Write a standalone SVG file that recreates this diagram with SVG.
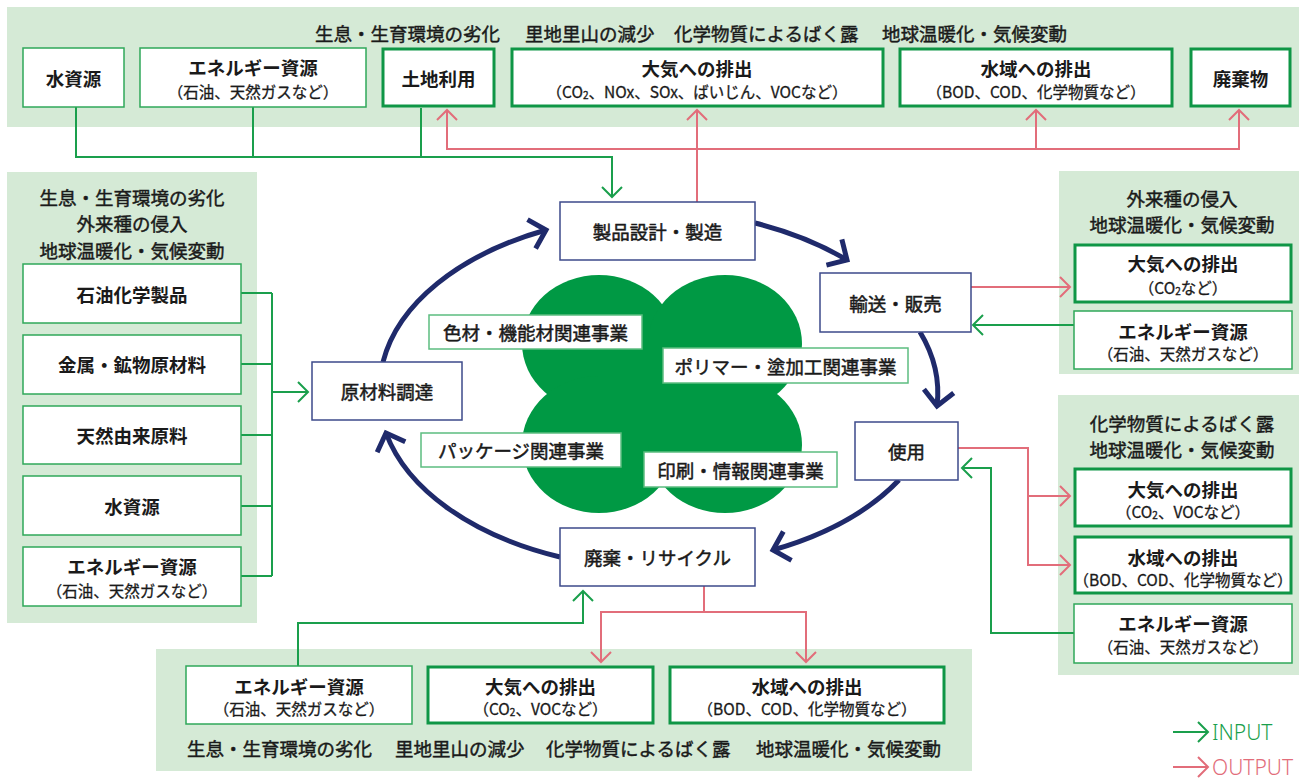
<svg xmlns="http://www.w3.org/2000/svg" width="1306" height="779" viewBox="0 0 1306 779">
<style>
text{font-family:"Noto Sans CJK JP","Noto Sans",sans-serif;fill:#1a1a1a;dominant-baseline:central;text-anchor:middle}
.h{font-size:18.5px;font-weight:400;stroke:#1a1a1a;stroke-width:0.45}
.hs{font-size:18.5px;font-weight:400;text-anchor:start;stroke:#1a1a1a;stroke-width:0.45}
.tt{font-size:18.5px;font-weight:700}
.st{font-size:15.5px;font-weight:400;stroke:#1a1a1a;stroke-width:0.3}
.pt{font-size:18.5px;font-weight:400;stroke:#1a1a1a;stroke-width:0.5}
.sb{font-size:10px}
.panel{fill:#d5ead6}
.thin{fill:#fff;stroke:#2fa85a;stroke-width:1.5}
.thick{fill:#fff;stroke:#0f9646;stroke-width:3}
.proc{fill:#fff;stroke:#3d4a8a;stroke-width:1.5}
.lab{fill:#fff;stroke:#5cbd80;stroke-width:1.5}
.gl{fill:none;stroke:#1a9f4c;stroke-width:2}
.rl{fill:none;stroke:#e26d7a;stroke-width:2}
.nl{fill:none;stroke:#1f2a6b;stroke-width:5}
.leg{font-family:"Noto Sans","Liberation Sans",sans-serif;font-size:21px;font-weight:300;text-anchor:start}
</style>
<defs>
<marker id="ag" viewBox="-13 -13 16 26" refX="0" refY="0" markerWidth="16" markerHeight="26" markerUnits="userSpaceOnUse" orient="auto" overflow="visible"><path d="M-10,-10 L0,0 L-10,10" fill="none" stroke="#1a9f4c" stroke-width="2"/></marker>
<marker id="ar" viewBox="-13 -13 16 26" refX="0" refY="0" markerWidth="16" markerHeight="26" markerUnits="userSpaceOnUse" orient="auto" overflow="visible"><path d="M-10,-10 L0,0 L-10,10" fill="none" stroke="#e26d7a" stroke-width="2"/></marker>
<marker id="an" viewBox="-20 -20 24 40" refX="0" refY="0" markerWidth="24" markerHeight="40" markerUnits="userSpaceOnUse" orient="auto" overflow="visible"><path d="M-15,-15 L0,0 L-15,15" fill="none" stroke="#1f2a6b" stroke-width="5"/></marker>
</defs>

<!-- panels -->
<g id="panels">
<rect class="panel" x="7" y="7" width="1292" height="120"/>
<rect class="panel" x="7" y="172" width="250" height="451"/>
<rect class="panel" x="1059" y="171" width="240" height="203"/>
<rect class="panel" x="1058" y="395" width="241" height="280"/>
<rect class="panel" x="156" y="649" width="816" height="122"/>
</g>

<!-- panel headings -->
<g id="headings">
<text class="hs" x="315" y="33">生息・生育環境の劣化</text>
<text class="hs" x="525" y="33">里地里山の減少</text>
<text class="hs" x="674" y="33">化学物質によるばく露</text>
<text class="hs" x="882" y="33">地球温暖化・気候変動</text>
<text class="h" x="132" y="197">生息・生育環境の劣化</text>
<text class="h" x="132" y="223">外来種の侵入</text>
<text class="h" x="132" y="250">地球温暖化・気候変動</text>
<text class="h" x="1182" y="198">外来種の侵入</text>
<text class="h" x="1182" y="224">地球温暖化・気候変動</text>
<text class="h" x="1182" y="423">化学物質によるばく露</text>
<text class="h" x="1182" y="449">地球温暖化・気候変動</text>
<text class="hs" x="187" y="748">生息・生育環境の劣化</text>
<text class="hs" x="395" y="748">里地里山の減少</text>
<text class="hs" x="546" y="748">化学物質によるばく露</text>
<text class="hs" x="756" y="748">地球温暖化・気候変動</text>
</g>

<!-- clover -->
<g id="clover" fill="#009944">
<ellipse cx="599" cy="343.5" rx="77" ry="68.5"/>
<ellipse cx="725" cy="343.5" rx="77" ry="68.5"/>
<ellipse cx="599" cy="444.5" rx="77" ry="68.5"/>
<ellipse cx="725" cy="444.5" rx="77" ry="68.5"/>
<rect x="599" y="343.5" width="126" height="101"/>
</g>

<!-- connectors -->
<g id="connectors">
<path class="gl" d="M76,107 V157 H612 V197" marker-end="url(#ag)"/>
<path class="gl" d="M253,107 V157"/>
<path class="gl" d="M421,108 V157"/>
<path class="rl" d="M697,202 V110" marker-end="url(#ar)"/>
<path class="rl" d="M697,149 H447 V110" marker-end="url(#ar)"/>
<path class="rl" d="M697,149 H1239 V110" marker-end="url(#ar)"/>
<path class="rl" d="M1036,149 V110" marker-end="url(#ar)"/>
<path class="gl" d="M241,293 H272 M241,364 H272 M241,435 H272 M241,506 H272 M241,576 H272 M272,293 V576"/>
<path class="gl" d="M272,392 H308" marker-end="url(#ag)"/>
<path class="rl" d="M971,287 H1070" marker-end="url(#ar)"/>
<path class="gl" d="M1074,325 H973" marker-end="url(#ag)"/>
<path class="rl" d="M958,448 H1028 V565 H1070" marker-end="url(#ar)"/>
<path class="rl" d="M1028,496 H1070" marker-end="url(#ar)"/>
<path class="gl" d="M1074,633 H991 V468 H962" marker-end="url(#ag)"/>
<path class="gl" d="M298,666 V623 H583 V591" marker-end="url(#ag)"/>
<path class="rl" d="M704,586 V612"/>
<path class="rl" d="M704,612 H601 V662" marker-end="url(#ar)"/>
<path class="rl" d="M704,612 H806 V662" marker-end="url(#ar)"/>
<path class="nl" d="M383,362 A285 175 0 0 1 546,230" marker-end="url(#an)"/>
<path class="nl" d="M755,223 A285 175 0 0 1 847,260" marker-end="url(#an)"/>
<path class="nl" d="M920,332 A285 175 0 0 1 937,406" marker-end="url(#an)"/>
<path class="nl" d="M899,480 A285 175 0 0 1 773,550" marker-end="url(#an)"/>
<path class="nl" d="M560,557 A285 175 0 0 1 386,433" marker-end="url(#an)"/>
</g>

<!-- top nodes -->
<g id="top-water"><rect class="thin" x="23" y="48" width="101" height="59"/><text class="tt" x="73.5" y="78">水資源</text></g>
<g id="top-energy"><rect class="thin" x="140" y="48" width="226" height="59"/><text class="tt" x="253" y="67">エネルギー資源</text><text class="st" x="253" y="91">（石油、天然ガスなど）</text></g>
<g id="top-land"><rect class="thick" x="383" y="49" width="111" height="57"/><text class="tt" x="438.5" y="78">土地利用</text></g>
<g id="top-air"><rect class="thick" x="512" y="49" width="371" height="57"/><text class="tt" x="697" y="68">大気への排出</text><text class="st" x="697" y="91">（CO<tspan class="sb" dy="3">2</tspan><tspan dy="-3">、NOx、SOx、ばいじん、VOCなど）</tspan></text></g>
<g id="top-wateremit"><rect class="thick" x="900" y="49" width="272" height="57"/><text class="tt" x="1036" y="68">水域への排出</text><text class="st" x="1036" y="91">（BOD、COD、化学物質など）</text></g>
<g id="top-waste"><rect class="thick" x="1191" y="49" width="99" height="57"/><text class="tt" x="1240.5" y="78">廃棄物</text></g>

<!-- left nodes -->
<g id="left-petro"><rect class="thin" x="23" y="264" width="218" height="59"/><text class="tt" x="132" y="294">石油化学製品</text></g>
<g id="left-metal"><rect class="thin" x="23" y="335" width="218" height="59"/><text class="tt" x="132" y="364">金属・鉱物原材料</text></g>
<g id="left-natural"><rect class="thin" x="23" y="406" width="218" height="58"/><text class="tt" x="132" y="435">天然由来原料</text></g>
<g id="left-water"><rect class="thin" x="23" y="476" width="218" height="59"/><text class="tt" x="132" y="506">水資源</text></g>
<g id="left-energy"><rect class="thin" x="23" y="547" width="218" height="59"/><text class="tt" x="132" y="566">エネルギー資源</text><text class="st" x="132" y="590">（石油、天然ガスなど）</text></g>

<!-- process nodes -->
<g id="p-design"><rect class="proc" x="560" y="202" width="195" height="58"/><text class="pt" x="657.5" y="231">製品設計・製造</text></g>
<g id="p-transport"><rect class="proc" x="820" y="273" width="151" height="59"/><text class="pt" x="895.5" y="302.5">輸送・販売</text></g>
<g id="p-use"><rect class="proc" x="855" y="422" width="103" height="58"/><text class="pt" x="906.5" y="451">使用</text></g>
<g id="p-disposal"><rect class="proc" x="560" y="528" width="195" height="58"/><text class="pt" x="657.5" y="557">廃棄・リサイクル</text></g>
<g id="p-procure"><rect class="proc" x="312" y="362" width="150" height="58"/><text class="pt" x="387" y="391">原材料調達</text></g>

<!-- clover labels -->
<g id="c-color"><rect class="lab" x="429" y="315" width="213" height="34"/><text class="pt" x="535.5" y="332">色材・機能材関連事業</text></g>
<g id="c-polymer"><rect class="lab" x="663" y="348" width="245" height="35"/><text class="pt" x="785.5" y="365.5">ポリマー・塗加工関連事業</text></g>
<g id="c-package"><rect class="lab" x="421" y="433" width="200" height="34"/><text class="pt" x="521" y="450">パッケージ関連事業</text></g>
<g id="c-print"><rect class="lab" x="644" y="452" width="193" height="35"/><text class="pt" x="740.5" y="469.5">印刷・情報関連事業</text></g>

<!-- right nodes -->
<g id="r1-air"><rect class="thick" x="1075" y="245" width="216" height="57"/><text class="tt" x="1183" y="263">大気への排出</text><text class="st" x="1183" y="287">（CO<tspan class="sb" dy="3">2</tspan><tspan dy="-3">など）</tspan></text></g>
<g id="r1-energy"><rect class="thin" x="1074" y="311" width="218" height="58"/><text class="tt" x="1183" y="331">エネルギー資源</text><text class="st" x="1183" y="353">（石油、天然ガスなど）</text></g>
<g id="r2-air"><rect class="thick" x="1075" y="469" width="216" height="57"/><text class="tt" x="1183" y="489">大気への排出</text><text class="st" x="1183" y="511">（CO<tspan class="sb" dy="3">2</tspan><tspan dy="-3">、VOCなど）</tspan></text></g>
<g id="r2-water"><rect class="thick" x="1075" y="537" width="216" height="56"/><text class="tt" x="1183" y="557">水域への排出</text><text class="st" x="1183" y="579">（BOD、COD、化学物質など）</text></g>
<g id="r2-energy"><rect class="thin" x="1074" y="604" width="218" height="59"/><text class="tt" x="1183" y="623">エネルギー資源</text><text class="st" x="1183" y="646">（石油、天然ガスなど）</text></g>

<!-- bottom nodes -->
<g id="b-energy"><rect class="thin" x="186" y="666" width="226" height="58"/><text class="tt" x="299" y="686">エネルギー資源</text><text class="st" x="299" y="708">（石油、天然ガスなど）</text></g>
<g id="b-air"><rect class="thick" x="428" y="667" width="225" height="56"/><text class="tt" x="540.5" y="686">大気への排出</text><text class="st" x="540.5" y="708">（CO<tspan class="sb" dy="3">2</tspan><tspan dy="-3">、VOCなど）</tspan></text></g>
<g id="b-water"><rect class="thick" x="670" y="667" width="274" height="56"/><text class="tt" x="807" y="686">水域への排出</text><text class="st" x="807" y="708">（BOD、COD、化学物質など）</text></g>

<!-- legend -->
<g id="legend">
<path class="gl" d="M1173,732 H1208" marker-end="url(#ag)"/>
<text class="leg" x="1212" y="732" style="fill:#1a9f4c">INPUT</text>
<path class="rl" d="M1173,767 H1208" marker-end="url(#ar)"/>
<text class="leg" x="1212" y="767" style="fill:#e26d7a">OUTPUT</text>
</g>
</svg>
